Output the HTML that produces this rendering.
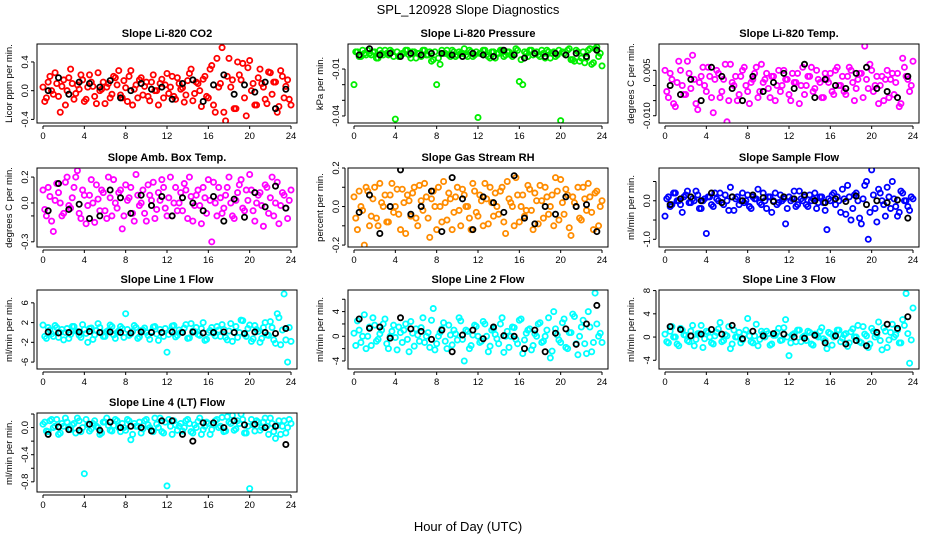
<!DOCTYPE html>
<html><head><meta charset="utf-8"><style>
html,body{margin:0;padding:0;background:#fff}
svg{display:block;font-family:"Liberation Sans",Arial,sans-serif}
</style></head><body>
<svg id="chart" width="936" height="540" viewBox="0 0 936 540" xmlns="http://www.w3.org/2000/svg">
<rect width="936" height="540" fill="#fff"/>
<text x="468" y="14" text-anchor="middle" font-size="13">SPL_120928  Slope Diagnostics</text>
<text x="468" y="531" text-anchor="middle" font-size="13">Hour of Day (UTC)</text>
</svg>
<script>
const hours=[0,0.33,0.67,1,1.33,1.67,2,2.33,2.67,3,3.33,3.67,4,4.33,4.67,5,5.33,5.67,6,6.33,6.67,7,7.33,7.67,8,8.33,8.67,9,9.33,9.67,10,10.33,10.67,11,11.33,11.67,12,12.33,12.67,13,13.33,13.67,14,14.33,14.67,15,15.33,15.67,16,16.33,16.67,17,17.33,17.67,18,18.33,18.67,19,19.33,19.67,20,20.33,20.67,21,21.33,21.67,22,22.33,22.67,23,23.33,23.67,24];
const hours2=[0.17,0.5,0.83,1.17,1.5,1.83,2.17,2.5,2.83,3.17,3.5,3.83,4.17,4.5,4.83,5.17,5.5,5.83,6.17,6.5,6.83,7.17,7.5,7.83,8.17,8.5,8.83,9.17,9.5,9.83,10.17,10.5,10.83,11.17,11.5,11.83,12.17,12.5,12.83,13.17,13.5,13.83,14.17,14.5,14.83,15.17,15.5,15.83,16.17,16.5,16.83,17.17,17.5,17.83,18.17,18.5,18.83,19.17,19.5,19.83,20.17,20.5,20.83,21.17,21.5,21.83,22.17,22.5,22.83,23.17,23.5,23.83];
const blackHours=[0.5,1.5,2.5,3.5,4.5,5.5,6.5,7.5,8.5,9.5,10.5,11.5,12.5,13.5,14.5,15.5,16.5,17.5,18.5,19.5,20.5,21.5,22.5,23.5];
const xTicks=[0,4,8,12,16,20,24];

const co2Vals=[0.05,-0.1,0.2,-0.05,0.1,-0.3,0.15,0.0,0.3,-0.12,0.08,0.22,-0.15,0.05,0.12,-0.08,0.25,0.02,-0.18,0.1,-0.05,0.18,0.28,-0.1,0.04,0.2,-0.2,0.08,0.15,-0.06,0.12,-0.14,0.22,0.0,0.1,-0.1,0.24,0.05,-0.08,0.18,0.02,-0.16,0.14,0.3,-0.04,0.1,-0.22,0.2,-0.1,0.35,-0.3,0.05,0.6,-0.42,0.45,0.15,-0.25,0.22,0.38,-0.35,0.42,0.1,-0.2,0.3,0.05,-0.18,0.25,0.12,-0.3,0.28,-0.1,0.15,-0.2];
const co2Vals2=[-0.15,0.12,0.0,0.25,-0.08,0.06,-0.2,0.18,0.1,-0.04,0.02,0.15,-0.12,0.22,0.06,-0.18,0.0,0.12,0.05,-0.1,0.2,0.08,-0.06,0.14,-0.15,0.28,0.02,-0.1,0.18,0.06,-0.08,0.12,0.0,-0.2,0.16,0.08,-0.04,0.2,-0.12,0.1,0.04,-0.06,0.24,-0.14,0.12,0.0,0.16,-0.08,0.3,-0.2,0.45,0.1,-0.3,0.2,0.05,-0.25,0.4,0.15,-0.1,0.32,0.0,-0.2,0.18,0.1,-0.12,0.26,-0.05,0.12,-0.22,0.2,0.06,-0.12];
const co2Black=[0.0,0.18,-0.05,0.12,0.1,0.05,0.14,-0.1,0.0,0.1,0.02,0.05,-0.12,0.1,0.15,-0.15,0.08,0.22,-0.05,0.08,-0.02,0.12,-0.25,0.02];
const presVals=[-0.02,0.001,-0.002,0.0,0.002,-0.001,0.001,-0.003,0.0,0.002,-0.001,0.001,-0.042,-0.002,0.0,0.002,-0.001,0.001,-0.003,0.0,0.002,-0.001,0.001,-0.004,-0.02,-0.007,0.0,0.002,-0.002,0.001,-0.001,0.0,0.003,-0.002,0.001,-0.001,-0.041,0.0,0.002,-0.002,0.001,-0.003,0.0,0.002,-0.001,0.001,-0.002,0.003,-0.018,-0.02,0.0,0.002,-0.001,0.001,-0.002,0.0,0.002,-0.003,0.001,-0.001,-0.043,0.0,0.002,-0.004,-0.005,0.001,-0.003,-0.006,0.002,-0.007,0.003,-0.002,-0.008];
const presVals2=[0.001,-0.002,0.002,-0.001,0.0,0.001,-0.003,0.002,-0.001,0.0,0.002,-0.002,0.001,-0.001,0.0,0.002,-0.003,0.001,0.0,-0.002,0.002,-0.001,-0.005,0.001,-0.003,0.002,0.0,-0.001,0.002,-0.002,0.001,0.0,-0.001,0.002,-0.002,0.001,0.0,0.002,-0.001,-0.003,0.001,0.0,0.002,-0.002,0.001,-0.001,0.0,0.002,-0.004,0.001,-0.002,0.002,0.0,-0.001,0.002,-0.003,0.001,0.0,-0.002,0.002,0.001,-0.001,0.003,-0.004,0.002,-0.005,0.001,-0.003,0.003,-0.006,0.004,0.0];
const presBlack=[-0.001,0.003,-0.001,0.0,-0.002,0.0,-0.001,0.0,0.0,-0.001,-0.002,0.0,-0.001,-0.002,0.002,-0.001,-0.003,0.0,-0.002,0.0,-0.001,0.0,-0.002,0.002];
const tempVals=[0.005,-0.004,0.002,-0.007,0.008,0.0,-0.003,0.004,0.010,-0.006,0.001,0.006,-0.002,0.003,-0.009,0.005,-0.004,0.002,-0.012,0.007,0.0,-0.005,0.003,0.006,-0.002,0.001,0.004,-0.004,0.007,0.002,-0.001,0.003,-0.005,0.005,0.0,0.002,-0.003,0.004,0.001,-0.006,0.006,0.0,0.003,-0.002,0.005,0.001,-0.004,0.002,0.004,-0.003,0.006,0.0,-0.002,0.003,0.005,-0.005,0.002,0.004,0.013,-0.001,0.005,0.0,-0.006,0.003,0.002,-0.004,0.004,0.001,-0.007,0.009,0.003,-0.002,0.008];
const tempVals2=[-0.002,0.004,-0.006,0.001,0.005,-0.003,0.008,-0.001,0.002,-0.008,0.003,0.0,0.006,-0.004,0.002,0.004,-0.002,0.007,-0.005,0.001,0.003,-0.003,0.005,0.0,-0.006,0.002,0.006,-0.002,0.001,0.004,-0.004,0.003,0.0,-0.002,0.005,0.002,-0.005,0.001,0.004,0.0,-0.003,0.003,0.006,-0.001,0.002,-0.004,0.004,0.001,-0.002,0.005,0.0,0.003,-0.003,0.006,0.001,-0.001,0.004,-0.004,0.002,0.007,-0.002,0.003,0.0,-0.005,0.005,0.002,-0.003,0.004,-0.006,0.006,0.002,0.0];
const tempBlack=[0.0,-0.003,0.002,-0.005,0.006,0.003,-0.001,-0.005,0.003,-0.002,0.001,0.004,-0.001,0.007,-0.004,0.002,0.0,-0.001,0.004,0.006,-0.001,-0.002,-0.004,0.003];
const ambVals=[0.1,-0.1,0.05,-0.22,0.15,0.0,-0.08,0.2,-0.04,0.12,0.25,-0.12,0.06,-0.02,0.18,-0.15,0.03,0.1,-0.06,0.2,-0.1,0.0,0.08,-0.2,0.14,0.04,-0.08,0.22,-0.02,0.1,-0.14,0.06,0.16,-0.05,0.02,0.12,-0.1,0.2,0.0,-0.06,0.08,0.15,-0.12,0.05,-0.02,0.1,-0.16,0.04,0.18,-0.3,0.0,0.12,-0.08,0.06,0.2,-0.1,0.02,0.14,-0.04,0.1,0.22,-0.06,0.0,0.08,-0.18,0.12,0.04,-0.1,0.16,-0.02,0.06,-0.12,0.1];
const ambVals2=[-0.05,0.12,-0.14,0.02,0.08,-0.1,0.16,-0.02,0.04,0.2,-0.08,0.1,-0.16,0.06,0.0,0.14,-0.06,0.08,-0.12,0.04,0.18,-0.04,0.1,-0.1,0.02,0.12,-0.14,0.06,0.0,-0.08,0.14,0.02,-0.12,0.08,0.18,-0.04,0.04,-0.1,0.12,0.0,-0.06,0.1,0.2,-0.14,0.06,-0.02,0.12,-0.08,0.02,0.16,-0.1,0.04,-0.04,0.12,0.0,-0.12,0.08,0.18,-0.06,0.02,0.1,-0.14,0.06,-0.02,0.14,-0.08,0.2,0.0,-0.16,0.08,-0.04,0.02];
const ambBlack=[-0.06,0.15,-0.05,-0.01,-0.12,-0.1,0.1,0.04,-0.08,0.06,-0.02,0.05,-0.1,0.04,0.0,-0.06,0.05,-0.14,0.03,-0.11,0.08,-0.03,0.13,-0.04];
const rhVals=[0.05,-0.12,0.0,-0.2,0.08,-0.05,0.1,-0.1,0.02,0.06,-0.08,0.12,0.0,-0.04,0.09,-0.14,0.03,0.07,-0.06,0.11,-0.02,0.05,-0.16,0.08,-0.12,0.0,0.13,-0.07,0.04,-0.03,0.1,-0.1,0.06,0.0,-0.12,0.08,-0.05,0.03,0.12,-0.09,0.02,0.07,-0.04,0.1,-0.14,0.04,0.0,0.15,-0.08,0.06,-0.02,0.09,-0.12,0.03,0.11,-0.06,0.05,0.0,-0.1,0.08,0.14,-0.04,0.06,-0.15,0.02,0.1,-0.07,0.04,0.12,-0.03,0.07,-0.1,0.03];
const rhVals2=[-0.06,0.08,-0.02,0.1,-0.1,0.04,-0.06,0.12,0.0,-0.08,0.06,-0.03,0.09,-0.12,0.02,0.06,-0.05,0.1,-0.1,0.03,0.12,-0.06,0.04,0.0,0.1,-0.08,0.02,0.07,-0.12,0.05,-0.02,0.09,0.0,-0.06,0.12,-0.03,0.06,-0.1,0.04,0.1,-0.05,0.0,0.08,-0.08,0.13,0.02,-0.1,0.06,0.0,-0.05,0.11,-0.02,0.07,-0.09,0.03,0.1,-0.04,0.06,0.15,-0.07,0.02,0.09,-0.11,0.05,0.0,-0.06,0.1,-0.02,0.05,-0.12,0.08,0.0];
const rhBlack=[-0.03,0.06,-0.14,0.0,0.19,-0.04,0.0,0.08,-0.13,0.15,0.04,-0.12,0.05,0.02,-0.03,0.16,-0.06,-0.09,0.0,-0.04,0.05,0.0,0.01,-0.13];
const sampVals=[-0.4,0.1,-0.1,0.2,0.0,-0.3,0.15,-0.05,0.05,0.25,-0.2,0.0,-0.85,0.1,-0.15,0.05,0.2,-0.1,0.0,0.35,-0.25,0.1,0.0,-0.05,0.15,-0.2,0.05,0.3,-0.1,0.0,0.1,-0.3,0.2,-0.05,0.0,-0.6,0.1,0.05,-0.15,0.25,0.0,-0.1,0.15,0.05,-0.2,0.1,-0.05,-0.75,0.0,0.2,0.1,-0.3,0.05,0.4,-0.5,0.15,0.0,-0.6,0.4,-1.0,0.8,-0.2,0.3,0.0,-0.4,0.1,0.5,-0.15,-0.3,0.2,0.0,-0.25,0.05];
const sampVals2=[0.05,-0.15,0.2,0.0,-0.1,0.1,0.25,-0.05,0.0,0.15,-0.2,0.05,0.1,-0.1,0.2,0.0,-0.05,0.15,-0.25,0.1,0.05,-0.1,0.2,0.0,-0.15,0.1,0.05,-0.05,0.2,-0.2,0.1,0.0,-0.1,0.15,0.05,-0.2,0.0,0.25,-0.1,0.05,0.1,-0.15,0.0,0.2,-0.05,0.1,-0.25,0.05,0.15,-0.1,0.0,0.3,-0.35,0.1,-0.2,0.2,-0.45,0.05,0.5,-0.3,0.15,-0.55,0.2,-0.1,0.35,-0.2,0.05,-0.4,0.25,0.0,-0.15,0.1];
const sampBlack=[-0.1,0.05,0.1,0.0,0.2,-0.05,0.1,0.0,0.15,0.08,-0.02,0.1,0.05,0.15,0.0,-0.05,0.05,-0.02,0.12,-0.1,0.0,-0.05,0.02,-0.45];
const l1Vals=[1.5,-1.2,0.5,-0.8,1.0,0.0,-1.5,0.8,-0.4,1.2,0.2,-1.0,0.6,-2.0,0.9,-0.5,1.8,0.0,-0.8,0.4,1.2,-1.2,0.3,0.8,3.8,-0.6,0.2,1.0,-0.9,0.5,0.0,-1.4,1.1,-0.3,0.6,-0.8,-4.0,0.4,1.4,-0.6,0.0,0.9,-1.2,1.8,0.2,-0.4,0.8,-1.6,0.0,1.0,-0.7,0.5,1.6,-1.0,0.3,-1.8,1.2,0.0,2.4,-0.8,1.5,-1.3,0.6,-2.0,1.0,-0.5,2.2,-1.5,3.8,-2.5,7.8,-6.0,-1.8];
const l1Vals2=[-0.8,1.0,-0.3,1.4,-1.0,0.6,0.0,-1.2,1.2,0.3,-0.6,1.6,-0.2,0.8,-1.4,0.4,1.0,-0.8,0.2,1.5,-0.5,0.0,1.2,-1.0,0.6,-0.3,1.4,-1.2,0.4,0.9,-0.6,0.2,1.2,-1.6,0.0,0.8,-0.4,1.3,-0.9,0.5,0.0,1.6,-1.1,0.3,1.0,-0.6,2.0,-1.4,0.4,-0.2,1.2,-0.8,0.6,-1.5,1.8,0.0,-1.0,2.5,-0.4,0.8,-1.8,1.4,0.2,-1.2,2.0,-0.6,1.0,-2.2,3.0,0.5,-1.5,1.0];
const l1Black=[0.1,-0.1,0.0,0.1,0.2,0.0,0.1,0.0,-0.1,0.1,0.0,0.0,0.1,0.0,0.1,-0.1,0.0,0.1,0.0,-0.2,0.1,0.0,-0.2,0.8];
const l2Vals=[0.5,2.5,-1.0,3.5,0.0,-1.5,1.8,-0.5,1.0,2.8,-2.0,0.8,-0.2,1.5,-1.0,2.0,-2.5,0.5,1.2,-0.8,3.0,0.0,-1.8,4.5,-1.2,0.6,2.2,-2.0,0.2,1.0,-0.6,2.5,-4.0,0.8,-1.5,1.8,0.0,-0.8,2.0,-2.5,1.0,0.3,-1.2,3.0,0.0,-1.8,1.5,-0.5,2.6,-2.8,0.5,1.2,-1.5,0.0,2.2,-0.8,1.0,-3.5,4.0,0.2,-1.0,2.8,-2.0,0.6,3.2,-3.0,1.5,-1.2,4.0,-2.5,7.0,0.0,-1.0];
const l2Vals2=[-1.5,1.0,0.0,-2.0,1.5,3.0,-0.8,0.4,2.0,-1.2,0.0,1.8,-2.2,0.6,1.0,-0.5,2.4,-1.6,0.2,1.4,-1.0,0.6,2.6,-2.2,0.0,1.2,-0.8,1.8,-1.4,0.4,3.0,-0.5,1.0,-2.0,0.2,1.6,-1.0,2.4,0.0,-1.6,1.2,-0.4,2.0,-2.6,0.8,0.0,1.4,-1.2,2.8,-0.6,1.0,-2.2,0.4,2.0,-1.0,0.0,3.0,-2.4,1.2,-0.6,2.2,-1.8,0.6,3.6,-1.2,0.0,2.6,-2.8,1.5,-1.0,2.0,0.5];
const l2Black=[2.8,1.3,1.5,-0.3,3.0,1.2,0.8,-0.5,1.0,-2.5,0.2,1.0,-0.4,1.5,0.1,0.0,-2.0,1.0,-2.5,0.5,1.2,-1.3,2.0,5.0];
const l3Vals=[0.5,-1.0,1.8,0.0,-1.5,1.2,0.3,-0.8,2.0,-0.4,0.6,-1.8,1.0,0.0,-1.2,0.8,2.5,-0.6,0.2,-2.0,1.2,0.0,-1.0,0.5,3.2,-0.8,0.2,-1.5,1.0,0.0,0.6,-1.2,0.3,1.5,-0.5,3.0,-3.2,0.4,-0.8,1.2,0.0,-0.6,0.8,-1.4,0.2,1.0,-0.3,-2.0,0.6,0.0,1.2,-0.8,0.4,-1.6,0.9,0.0,2.0,-1.0,0.5,-1.8,1.5,0.0,2.6,-2.2,1.0,-0.5,2.2,0.4,-1.0,3.0,7.5,-4.5,5.0];
const l3Vals2=[-0.8,1.0,0.0,-1.2,1.5,0.4,-0.6,1.0,-1.5,0.6,2.0,-0.3,0.8,-1.0,0.2,1.4,-0.8,0.4,1.8,-1.2,0.0,0.8,-0.5,1.2,0.2,-1.0,2.2,-0.4,0.6,1.0,-1.4,0.3,0.8,-0.6,1.6,0.0,-1.0,0.6,1.2,-0.8,0.2,1.0,-1.2,0.5,0.0,1.6,-0.6,0.8,-1.4,0.4,1.2,-0.2,0.6,-1.0,1.4,0.0,-0.8,1.8,0.2,-1.2,1.0,0.4,-0.6,1.6,-1.8,0.8,0.0,1.2,-1.0,2.0,0.6,-0.5];
const l3Black=[1.8,1.3,0.2,0.5,1.3,0.5,2.0,-0.3,1.0,0.2,0.6,0.5,0.0,-0.2,0.3,-1.0,0.2,-1.2,-0.6,-1.5,0.8,2.2,1.5,3.5];
const l4Vals=[0.05,-0.05,0.1,0.0,0.12,-0.08,0.02,0.08,-0.03,0.06,0.14,-0.06,-0.68,0.04,-0.02,0.1,0.0,-0.08,0.08,0.03,-0.05,0.12,0.0,0.06,-0.04,0.1,-0.1,0.02,0.08,-0.02,0.12,0.0,-0.06,0.05,0.14,-0.08,-0.86,0.02,0.1,-0.04,0.06,0.0,0.12,-0.06,0.04,0.09,-0.1,0.02,0.06,-0.03,0.1,0.0,0.15,-0.05,0.08,0.18,-0.02,0.06,0.12,-0.08,-0.9,0.04,0.1,-0.04,0.08,0.02,0.14,-0.06,0.03,-0.1,0.1,0.0,0.06];
const l4Vals2=[0.08,-0.06,0.12,0.02,-0.1,0.06,0.14,-0.02,0.04,-0.08,0.1,0.0,0.12,-0.05,0.06,0.02,-0.1,0.08,0.14,-0.04,0.03,0.1,-0.06,0.0,0.12,-0.18,0.06,0.02,-0.08,0.1,0.04,-0.04,0.14,0.0,-0.06,0.08,0.12,-0.1,0.04,0.02,-0.05,0.1,0.06,-0.08,0.0,0.14,-0.03,0.08,-0.1,0.04,0.12,0.02,-0.06,0.16,0.06,-0.04,0.1,0.2,-0.08,0.02,0.12,-0.05,0.08,0.0,0.14,-0.1,0.06,-0.16,0.1,0.02,-0.08,0.12];
const l4Black=[-0.1,0.01,-0.03,-0.04,0.05,-0.04,0.08,0.0,0.02,0.0,-0.05,0.1,0.1,-0.1,-0.2,0.07,0.07,0.0,0.1,0.04,0.05,0.0,0.02,-0.25];

const panels=[
 {name:"co2",title:"Slope Li-820 CO2",ylab:"Licor ppm per min.",col:0,row:0,ylim:[-0.45,0.65],ticks:[-0.4,0,0.4],labels:["-0.4","0.0","0.4"],color:"#ff0000",vals:co2Vals,vals2:co2Vals2,black:co2Black},
 {name:"pressure",title:"Slope Li-820 Pressure",ylab:"kPa per min.",col:1,row:0,ylim:[-0.0445,0.006],ticks:[-0.01,-0.02,-0.03,-0.04],labels:["-0.01","","","-0.04"],color:"#00ee00",vals:presVals,vals2:presVals2,black:presBlack},
 {name:"temp",title:"Slope Li-820 Temp.",ylab:"degrees C per min.",col:2,row:0,ylim:[-0.0124,0.0137],ticks:[-0.01,-0.005,0,0.005],labels:["-0.010","","","0.005"],color:"#ff00ff",vals:tempVals,vals2:tempVals2,black:tempBlack},
 {name:"amb-box-temp",title:"Slope Amb. Box Temp.",ylab:"degrees C per min.",col:0,row:1,ylim:[-0.34,0.27],ticks:[-0.3,-0.1,0,0.2],labels:["-0.3","","0.0","0.2"],color:"#ff00ff",vals:ambVals,vals2:ambVals2,black:ambBlack},
 {name:"gas-stream-rh",title:"Slope Gas Stream RH",ylab:"percent per min.",col:1,row:1,ylim:[-0.21,0.2],ticks:[-0.2,-0.1,0,0.1,0.2],labels:["-0.2","","0.0","","0.2"],color:"#ff8c00",vals:rhVals,vals2:rhVals2,black:rhBlack},
 {name:"sample-flow",title:"Slope Sample Flow",ylab:"ml/min per min.",col:2,row:1,ylim:[-1.2,0.85],ticks:[-1,-0.5,0,0.5],labels:["-1.0","","0.0",""],color:"#0000ff",vals:sampVals,vals2:sampVals2,black:sampBlack},
 {name:"line1-flow",title:"Slope Line 1 Flow",ylab:"ml/min per min.",col:0,row:2,ylim:[-7.4,8.6],ticks:[-6,-2,2,6],labels:["-6","-2","2","6"],color:"#00ffff",vals:l1Vals,vals2:l1Vals2,black:l1Black},
 {name:"line2-flow",title:"Slope Line 2 Flow",ylab:"ml/min per min.",col:1,row:2,ylim:[-5.3,7.5],ticks:[-4,-2,0,2,4,6],labels:["-4","","0","","4",""],color:"#00ffff",vals:l2Vals,vals2:l2Vals2,black:l2Black},
 {name:"line3-flow",title:"Slope Line 3 Flow",ylab:"ml/min per min.",col:2,row:2,ylim:[-5.5,8.1],ticks:[-4,0,4,8],labels:["-4","0","4","8"],color:"#00ffff",vals:l3Vals,vals2:l3Vals2,black:l3Black},
 {name:"line4-lt-flow",title:"Slope Line 4 (LT) Flow",ylab:"ml/min per min.",col:0,row:3,ylim:[-0.95,0.215],ticks:[-0.8,-0.6,-0.4,-0.2,0,0.2],labels:["-0.8","","-0.4","","0.0",""],color:"#00ffff",vals:l4Vals,vals2:l4Vals2,black:l4Black}
];
const NS="http://www.w3.org/2000/svg";
const svg=document.getElementById('chart');
const colX=[37,348,659], rowY=[44,168,290,413], W=260, H=79;
function mk(tag,attrs,parent){const e=document.createElementNS(NS,tag);for(const k in attrs)e.setAttribute(k,attrs[k]);(parent||svg).appendChild(e);return e;}
panels.forEach(p=>{
  const L=colX[p.col], T=rowY[p.row];
  const g=mk('g',{});
  
  
  const xs=h=>L+6+(h/24)*(W-12);
  const ys=v=>T+H-(v-p.ylim[0])/(p.ylim[1]-p.ylim[0])*H;
  const t=mk('text',{x:L+W/2,y:T-7,'text-anchor':'middle','font-size':'11','font-weight':'bold'},g);
  t.textContent=p.title;
  
  
  const clip=mk('clipPath',{id:'c-'+p.name},g);
  mk('rect',{x:L,y:T,width:W,height:H},clip);
  const pts=mk('g',{'clip-path':'url(#c-'+p.name+')'},g);
  const n=Math.min(hours.length,p.vals.length);
  for(let i=0;i<n;i++){
    const c=mk('circle',{cx:xs(hours[i]),cy:ys(p.vals[i]),r:2.6,fill:'none',stroke:p.color,'stroke-width':1.8},pts);
    
    
  }
  const n2=Math.min(hours2.length,p.vals2.length);
  for(let i=0;i<n2;i++){
    const c=mk('circle',{cx:xs(hours2[i]),cy:ys(p.vals2[i]),r:2.6,fill:'none',stroke:p.color,'stroke-width':1.8},pts);
    
    
  }
  const nb=Math.min(blackHours.length,p.black.length);
  for(let i=0;i<nb;i++){
    const c=mk('circle',{cx:xs(blackHours[i]),cy:ys(p.black[i]),r:2.6,fill:'none',stroke:'#000','stroke-width':1.8},pts);
    
    
  }
  const box=mk('rect',{x:L,y:T,width:W,height:H,fill:'none',stroke:'#000','stroke-width':1},g);
  
  
  const xa=mk('g',{},g);
  
  
  mk('line',{x1:xs(0),x2:xs(24),y1:T+H+3,y2:T+H+3,stroke:'#000'},xa);
  xTicks.forEach(v=>{
    mk('line',{x1:xs(v),x2:xs(v),y1:T+H+3,y2:T+H+6,stroke:'#000'},xa);
    const tl=mk('text',{x:xs(v),y:T+H+16,'text-anchor':'middle','font-size':'9.5'},xa);
    tl.textContent=v;
    
    
  });
  const ya=mk('g',{},g);
  
  
  mk('line',{x1:L-3,x2:L-3,y1:ys(p.ticks[0]),y2:ys(p.ticks[p.ticks.length-1]),stroke:'#000'},ya);
  p.ticks.forEach((v,i)=>{
    const y=ys(v);
    mk('line',{x1:L-6,x2:L-3,y1:y,y2:y,stroke:'#000'},ya);
    if(p.labels[i]){
      const tl=mk('text',{x:0,y:0,'text-anchor':'middle','font-size':'9.5',transform:`translate(${L-9},${y}) rotate(-90)`},ya);
      tl.textContent=p.labels[i];
      
      
    }
  });
  const yl=mk('text',{x:0,y:0,'text-anchor':'middle','font-size':'9.5',transform:`translate(${L-25},${T+H/2}) rotate(-90)`},g);
  yl.textContent=p.ylab;
  
  
});
</script>
</body></html>
